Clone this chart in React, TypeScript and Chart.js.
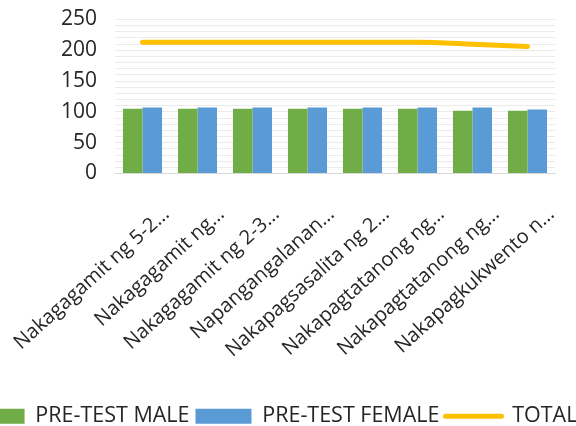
import React, { useEffect, useRef } from 'react';
import { Chart, registerables } from 'chart.js';

Chart.register(...registerables);

const categories = [
  'Nakagagamit ng 5-2…',
  'Nakagagamit ng…',
  'Nakagagamit ng 2-3…',
  'Napangangalanan…',
  'Nakapagsasalita ng 2…',
  'Nakapagtatanong ng…',
  'Nakapagtatanong ng…',
  'Nakapagkukwento n…',
];
const maleValues = [105, 105, 105, 105, 105, 105, 102, 102];
const femaleValues = [107, 107, 107, 107, 107, 107, 107, 104];
const totalValues = [213, 213, 213, 213, 213, 213, 210, 206];
const seriesNames = ['PRE-TEST MALE', 'PRE-TEST FEMALE', 'TOTAL'];
const yTickLabels = [0, 50, 100, 150, 200, 250];

const GREEN = '#70AD47';
const BLUE = '#5B9BD5';
const YELLOW = '#FFC000';
const TEXT = '#262626';
const FONT = '"Open Sans", sans-serif';

const CANVAS_LEFT = -62;
const CANVAS_W = 670;
const CANVAS_H = 426;

export default function App() {
  const ref = useRef<HTMLCanvasElement | null>(null);

  useEffect(() => {
    if (!ref.current) return;
    const chart = new Chart(ref.current, {
      type: 'bar',
      data: {
        labels: categories,
        datasets: [
          {
            type: 'bar',
            label: seriesNames[0],
            data: maleValues,
            backgroundColor: GREEN,
            borderWidth: 0,
            barPercentage: 1,
            categoryPercentage: 0.71,
          },
          {
            type: 'bar',
            label: seriesNames[1],
            data: femaleValues,
            backgroundColor: BLUE,
            borderWidth: 0,
            barPercentage: 1,
            categoryPercentage: 0.71,
          },
          {
            type: 'line',
            label: seriesNames[2],
            data: totalValues,
            borderColor: YELLOW,
            backgroundColor: YELLOW,
            borderWidth: 5,
            pointRadius: 0,
            pointHoverRadius: 0,
            cubicInterpolationMode: 'monotone',
            borderCapStyle: 'round',
          } as any,
        ],
      },
      options: {
        responsive: false,
        animation: false,
        layout: { padding: { top: 19.5, left: 0, right: 0, bottom: -11 } },
        font: { family: FONT },
        plugins: {
          tooltip: { enabled: false },
          legend: {
            position: 'bottom',
            labels: {
              color: TEXT,
              font: { family: FONT, size: 21.5 },
              usePointStyle: true,
              pointStyleWidth: 56,
              boxHeight: 15,
              padding: 6,
              generateLabels: (c: any) => {
                const items = Chart.defaults.plugins.legend.labels.generateLabels(c);
                return items.map((it: any) => {
                  if (it.datasetIndex === 2) {
                    return { ...it, pointStyle: 'line', lineWidth: 5, strokeStyle: YELLOW, fillStyle: YELLOW, lineCap: 'round' };
                  }
                  return { ...it, pointStyle: 'rect', lineWidth: 0 };
                });
              },
            },
          },
        },
        scales: {
          x: {
            grid: { display: false, drawTicks: false },
            border: { display: true, color: '#d9d9d9', width: 1 },
            ticks: {
              color: TEXT,
              font: { family: FONT, size: 20 },
              minRotation: 42,
              maxRotation: 42,
              autoSkip: false,
              padding: 29,
              labelOffset: 24,
            },
            afterFit: (s: any) => {
              s.height = 226;
            },
          },
          y: {
            min: 0,
            max: 250,
            grid: { color: '#ebebeb', drawTicks: false },
            border: { display: false },
            ticks: {
              stepSize: 10,
              autoSkip: false,
              color: TEXT,
              font: { family: FONT, size: 21 },
              padding: 18,
              callback: (v: any) => (yTickLabels.includes(Number(v)) ? String(v) : ''),
            },
            afterFit: (s: any) => {
              s.width = 115 - CANVAS_LEFT;
              s.paddingTop = 0;
              s.paddingBottom = 0;
            },
          },
          yRightSpacer: {
            position: 'right',
            display: true,
            grid: { display: false, drawTicks: false },
            border: { display: false },
            ticks: { display: false },
            afterFit: (s: any) => {
              s.width = CANVAS_LEFT + CANVAS_W - 555;
              s.paddingTop = 0;
              s.paddingBottom = 0;
            },
          },
        },
      } as any,
    });
    return () => chart.destroy();
  }, []);

  return (
    <div style={{ position: 'fixed', left: 0, top: 0, width: 576, height: 426, overflow: 'hidden', background: '#fff' }}>
      <div style={{ position: 'absolute', left: CANVAS_LEFT, top: 0, width: CANVAS_W, height: CANVAS_H }}>
        <canvas ref={ref} width={CANVAS_W} height={CANVAS_H} style={{ width: CANVAS_W, height: CANVAS_H, display: 'block' }} />
      </div>
    </div>
  );
}
